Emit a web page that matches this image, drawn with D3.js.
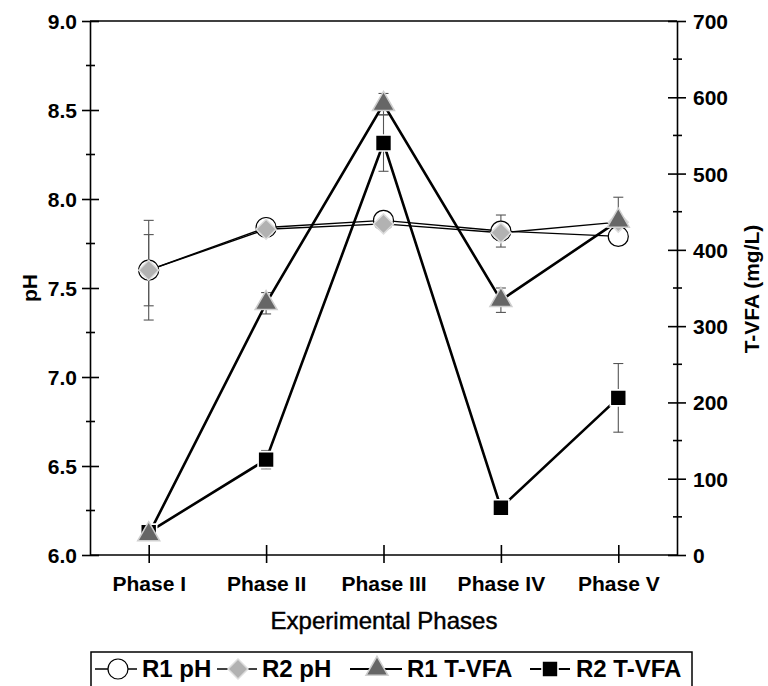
<!DOCTYPE html>
<html>
<head>
<meta charset="utf-8">
<script src="https://cdn.jsdelivr.net/npm/d3@7"></script>
<style>
  body { margin: 0; background: #fff; }
  svg text { font-family: "Liberation Sans", Arial, sans-serif; }
  .axis path, .axis line { stroke: #000; stroke-width: 1.6; }
  .axis text { font-size: 21px; font-weight: bold; fill: #000; }
</style>
</head>
<body>
<svg id="chart" width="768" height="686"></svg>
<script>
// phases and the four series
const phases = ["Phase I", "Phase II", "Phase III", "Phase IV", "Phase V"];

const r1pH = [7.60, 7.84, 7.88, 7.82, 7.79];
const r1pHErr = [0.28, 0.02, 0.02, 0.09, 0.02];
const r2pH = [7.60, 7.83, 7.86, 7.81, 7.87];
const r2pHErr = [0.20, 0.01, 0.01, 0.04, 0.02];

const r1VFA = [27, 330, 591, 334, 438];
const r1VFAErr = [3, 14, 14, 16, 31];
const r2VFA = [30, 125, 540, 62, 206];
const r2VFAErr = [3, 12, 37, 3, 45];

const pHTicks = [6.0, 6.5, 7.0, 7.5, 8.0, 8.5, 9.0];
const vfaTicks = [0, 100, 200, 300, 400, 500, 600, 700];

const legendItems = ["R1 pH", "R2 pH", "R1 T-VFA", "R2 T-VFA"];

let svg = d3.select("#chart");

let plotL = 90, plotR = 677, plotT = 21, plotB = 555;

let x = d3.scalePoint().domain(phases).range([plotL, plotR]).padding(0.5);
let yPH = d3.scaleLinear().domain([6, 9]).range([plotB, plotT]);
let yVFA = d3.scaleLinear().domain([0, 700]).range([plotB, plotT]);

// top border
svg.append("line")
    .attr("x1", plotL).attr("x2", plotR)
    .attr("y1", plotT).attr("y2", plotT)
    .attr("stroke", "#000").attr("stroke-width", 1.6);

// left axis, major ticks cross the line
let gl = svg.append("g")
    .attr("class", "axis")
    .attr("transform", "translate(" + plotL + ",0)")
    .call(d3.axisLeft(yPH).tickValues(pHTicks).tickFormat(d3.format(".1f"))
        .tickSizeInner(8).tickSizeOuter(0).tickPadding(5));
gl.selectAll(".tick line").attr("x2", -8).attr("x1", 9);
gl.selectAll(".tick text").attr("dy", "0.36em");
// minor ticks
gl.selectAll(".minor")
    .data(d3.range(6.25, 9, 0.5))
    .enter().append("line")
    .attr("x1", -4).attr("x2", 5)
    .attr("y1", d => yPH(d)).attr("y2", d => yPH(d))
    .attr("stroke", "#000").attr("stroke-width", 1.6);

// right axis
let gr = svg.append("g")
    .attr("class", "axis")
    .attr("transform", "translate(" + plotR + ",0)")
    .call(d3.axisRight(yVFA).tickValues(vfaTicks)
        .tickSizeInner(9).tickSizeOuter(0).tickPadding(7));
gr.selectAll(".tick line").attr("x1", -9).attr("x2", 9);
gr.selectAll(".tick text").attr("dy", "0.36em");
gr.selectAll(".minor")
    .data(d3.range(50, 700, 100))
    .enter().append("line")
    .attr("x1", -4).attr("x2", 5)
    .attr("y1", d => yVFA(d)).attr("y2", d => yVFA(d))
    .attr("stroke", "#000").attr("stroke-width", 1.6);

// bottom axis
let gb = svg.append("g")
    .attr("class", "axis")
    .attr("transform", "translate(0," + plotB + ")")
    .call(d3.axisBottom(x).tickSizeInner(8).tickSizeOuter(0).tickPadding(13));
gb.selectAll(".tick line").attr("y1", -10).attr("y2", 8).attr("stroke-width", 1.3);
gb.select(".domain").attr("d", "M" + plotL + ",0H" + plotR);

// axis titles
svg.append("text")
    .attr("transform", "translate(37,288) rotate(-90)")
    .attr("text-anchor", "middle")
    .style("font-size", "21px").style("font-weight", "bold")
    .text("pH");

svg.append("text")
    .attr("transform", "translate(759,289) rotate(-90)")
    .attr("text-anchor", "middle")
    .style("font-size", "21px").style("font-weight", "bold")
    .text("T-VFA (mg/L)");

svg.append("text")
    .attr("x", 384).attr("y", 629)
    .attr("text-anchor", "middle")
    .attr("stroke", "#000").attr("stroke-width", 0.45)
    .style("font-size", "24px")
    .text("Experimental Phases");

// error bars
function errorBars(vals, errs, yScale) {
    let g = svg.append("g").attr("stroke", "#555").attr("stroke-width", 1.1);
    vals.forEach(function(v, i) {
        let cx = x(phases[i]);
        let y1 = yScale(v - errs[i]), y2 = yScale(v + errs[i]);
        g.append("line").attr("x1", cx).attr("x2", cx).attr("y1", y1).attr("y2", y2);
        g.append("line").attr("x1", cx - 5).attr("x2", cx + 5).attr("y1", y1).attr("y2", y1);
        g.append("line").attr("x1", cx - 5).attr("x2", cx + 5).attr("y1", y2).attr("y2", y2);
    });
}
errorBars(r1pH, r1pHErr, yPH);
errorBars(r2pH, r2pHErr, yPH);
errorBars(r1VFA, r1VFAErr, yVFA);
errorBars(r2VFA, r2VFAErr, yVFA);

// lines
function drawLine(vals, yScale, width) {
    let line = d3.line()
        .x((d, i) => x(phases[i]))
        .y(d => yScale(d));
    svg.append("path")
        .datum(vals)
        .attr("d", line)
        .attr("fill", "none")
        .attr("stroke", "#000")
        .attr("stroke-width", width);
}
drawLine(r1pH, yPH, 1.4);
drawLine(r2pH, yPH, 1.4);
drawLine(r1VFA, yVFA, 2.6);
drawLine(r2VFA, yVFA, 2.6);

// marker shapes
let circleSym = d3.symbol().type(d3.symbolCircle).size(Math.PI * 100);
let diamondSym = d3.symbol().type(d3.symbolSquare).size(200);
let triSym = d3.symbol().type(d3.symbolTriangle).size(210);
let squareSym = d3.symbol().type(d3.symbolSquare).size(256);

let styles = {
    c: { sym: circleSym, fill: "#fff", stroke: "#000", sw: 1.2, rot: 0 },
    d: { sym: diamondSym, fill: "#b2b2b2", stroke: "#dedede", sw: 1.5, rot: 45 },
    t: { sym: triSym, fill: "#666666", stroke: "#cfcfcf", sw: 1.5, rot: 0 },
    s: { sym: squareSym, fill: "#000", stroke: "#fff", sw: 1.6, rot: 0 }
};

function markers(vals, yScale, st) {
    svg.append("g").selectAll("path")
        .data(vals)
        .enter().append("path")
        .attr("d", st.sym())
        .attr("transform", (d, i) => "translate(" + x(phases[i]) + "," + yScale(d) + ") rotate(" + st.rot + ")")
        .attr("fill", st.fill)
        .attr("stroke", st.stroke)
        .attr("stroke-width", st.sw);
}
markers(r1pH, yPH, styles.c);
markers(r2pH, yPH, styles.d);
markers(r2VFA, yVFA, styles.s);
markers(r1VFA, yVFA, styles.t);

// legend
let legend = svg.append("g");
legend.append("rect")
    .attr("x", 91).attr("y", 652)
    .attr("width", 601).attr("height", 45)
    .attr("fill", "#fff").attr("stroke", "#000").attr("stroke-width", 1.5);

let legendSym = [styles.c, styles.d, styles.t, styles.s];
let legendLine = [[95, 137], [217, 257], [350, 402], [530, 570]];
let legendMark = [118, 238, 377, 550];
let legendText = [142, 262, 407, 576];
let ly = 669;

legendItems.forEach(function(name, i) {
    let st = legendSym[i];
    legend.append("line")
        .attr("x1", legendLine[i][0]).attr("x2", legendLine[i][1])
        .attr("y1", ly).attr("y2", ly)
        .attr("stroke", "#000").attr("stroke-width", i < 2 ? 1.4 : 2.2);
    legend.append("path")
        .attr("d", st.sym())
        .attr("transform", "translate(" + legendMark[i] + "," + ly + ") rotate(" + st.rot + ")")
        .attr("fill", st.fill).attr("stroke", st.stroke).attr("stroke-width", st.sw);
    legend.append("text")
        .attr("x", legendText[i]).attr("y", ly + 8)
        .style("font-size", "24px").style("font-weight", "bold")
        .text(name);
});
</script>
</body>
</html>
